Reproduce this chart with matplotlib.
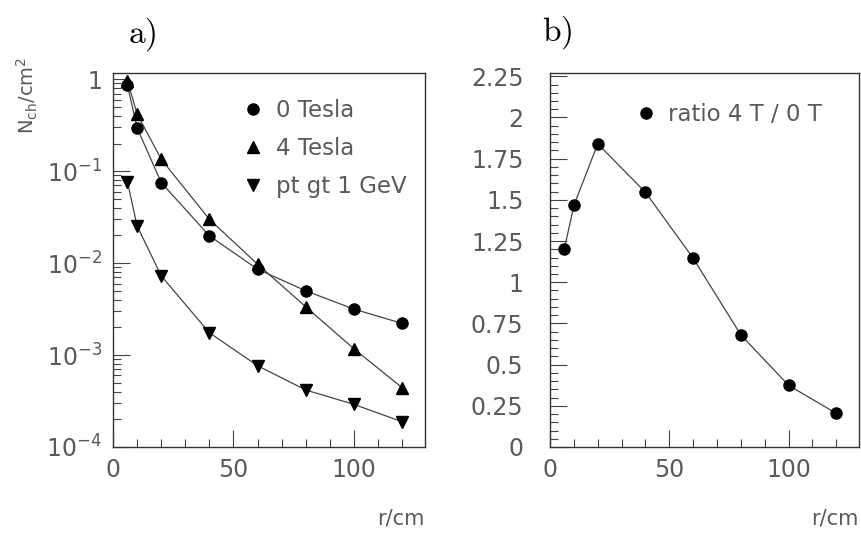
import numpy as np
import matplotlib.pyplot as plt
from matplotlib.ticker import FixedLocator, MultipleLocator, LogLocator, FuncFormatter, NullFormatter

# Data
r = [6, 10, 20, 40, 60, 80, 100, 120]
tesla0 = [0.86, 0.296, 0.0753, 0.0198, 0.0086, 0.0050, 0.00316, 0.00221]
tesla4 = [0.96, 0.42, 0.135, 0.030, 0.00975, 0.00335, 0.00117, 0.000442]
pt_gt1 = [0.0766, 0.0254, 0.00728, 0.00175, 0.000766, 0.000417, 0.000291, 0.000188]
ratio = [1.20, 1.466, 1.84, 1.546, 1.146, 0.68, 0.374, 0.204]

txt = '#5a5a5a'
plt.rcParams['font.family'] = ['DejaVu Sans']
plt.rcParams['mathtext.fontset'] = 'dejavusans'

fig = plt.figure(figsize=(8.62, 5.33), dpi=100)
ax1 = fig.add_axes([113/862, 86/533, 312/862, 374/533])
ax2 = fig.add_axes([550/862, 86/533, 309/862, 374/533])

for ax in (ax1, ax2):
    for s in ax.spines.values():
        s.set_color('#333333')
        s.set_linewidth(1.0)
    ax.tick_params(which='both', direction='in', top=False, right=False,
                   colors='#444444', labelcolor=txt, labelsize=17, width=0.8)
    ax.tick_params(which='major', length=12)
    ax.tick_params(which='minor', length=6)
    ax.set_xlim(0, 129.5)
    ax.xaxis.set_major_locator(FixedLocator([0, 50, 100]))
    ax.xaxis.set_minor_locator(MultipleLocator(10))
    ax.tick_params(axis='x', pad=8)
    ax.text(1.0, -71/374, 'r/cm', transform=ax.transAxes, ha='right', va='center',
            color=txt, fontsize=15)

# Panel a
ax1.set_yscale('log')
ax1.set_ylim(1e-4, 1.17)
ax1.yaxis.set_major_locator(LogLocator(base=10, numticks=10))
ax1.yaxis.set_minor_locator(LogLocator(base=10, subs=np.arange(2, 10), numticks=10))
ax1.yaxis.set_minor_formatter(NullFormatter())


def logfmt(v, pos):
    e = int(round(np.log10(v)))
    return r'$1\quad$' if e == 0 else r'$10^{%d}$' % e


ax1.yaxis.set_major_formatter(FuncFormatter(logfmt))
ax1.tick_params(axis='y', pad=8)

lc = '#444444'
series = [(tesla0, 'o', '0 Tesla', 8), (tesla4, '^', '4 Tesla', 8.5), (pt_gt1, 'v', 'pt gt 1 GeV', 8.5)]
for vals, m, lab, ms in series:
    ax1.plot(r, vals, '-', color=lc, lw=0.9, zorder=2)
    ax1.plot(r, vals, m, ls='none', color='black', ms=ms, label=lab, zorder=3)
ax1.legend(loc='upper left', bbox_to_anchor=(0.39, 0.955), frameon=False, fontsize=16.5,
           labelcolor=txt, handlelength=0.8, handletextpad=0.6, labelspacing=0.66,
           numpoints=1, borderaxespad=0)
ax1.text(-0.275, 0.94, r'N$_{\rm ch}$/cm$^2$', transform=ax1.transAxes, rotation=90,
         ha='center', va='center', color=txt, fontsize=14)

# Panel b
ax2.set_ylim(0, 2.27)
ax2.yaxis.set_major_locator(MultipleLocator(0.25))
ax2.yaxis.set_minor_locator(MultipleLocator(0.05))
ax2.yaxis.set_major_formatter(FuncFormatter(lambda v, p: ('%.2f' % v).rstrip('0').rstrip('.')))
ax2.tick_params(axis='y', pad=19)
ax2.plot(r, ratio, '-', color=lc, lw=0.9, zorder=2)
ax2.plot(r, ratio, 'o', ls='none', color='black', ms=8, label='ratio 4 T / 0 T', zorder=3)
ax2.legend(loc='upper left', bbox_to_anchor=(0.25, 0.945), frameon=False, fontsize=16.5,
           labelcolor=txt, handlelength=0.8, handletextpad=0.6, numpoints=1, borderaxespad=0)

fig.text(142/862, 1 - 35/533, r'$\mathrm{a)}$', fontsize=24, ha='center', va='center',
         math_fontfamily='cm')
fig.text(557/862, 1 - 33/533, r'$\mathrm{b)}$', fontsize=24, ha='center', va='center',
         math_fontfamily='cm')

fig.savefig('out.png', dpi=100)
